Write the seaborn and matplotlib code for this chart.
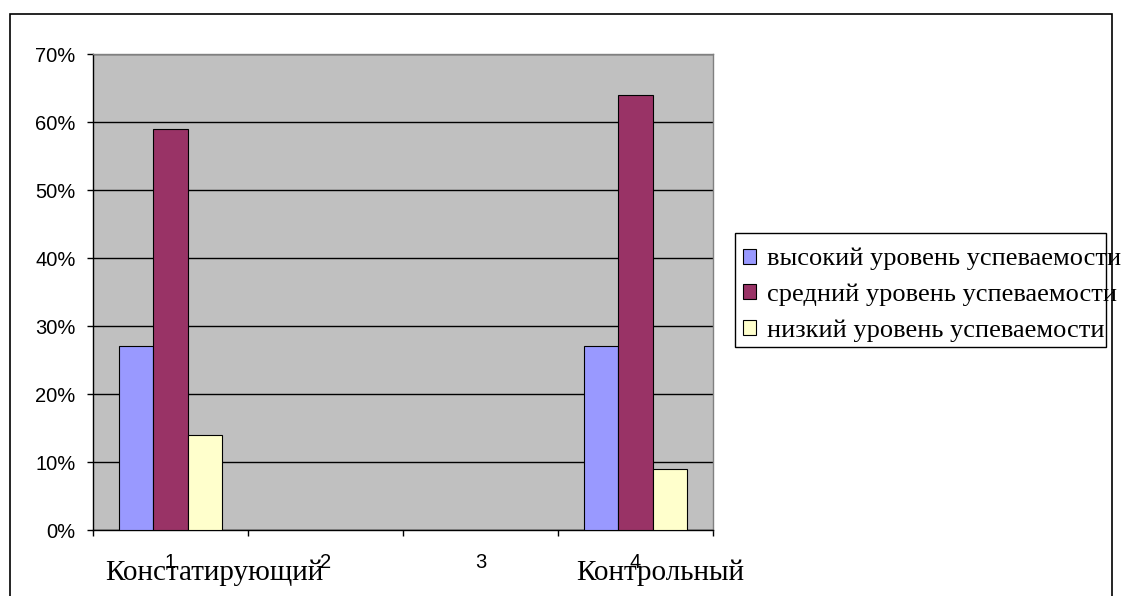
import matplotlib
matplotlib.use("Agg")
import matplotlib.pyplot as plt
from matplotlib.patches import Rectangle, Patch
from matplotlib.ticker import PercentFormatter, FixedLocator
import pandas as pd
import seaborn as sns

# данные
stages = ["1", "2", "3", "4"]
levels = ["высокий уровень успеваемости",
          "средний уровень успеваемости",
          "низкий уровень успеваемости"]
stage_names = ["Констатирующий", "Контрольный"]
high = [0.27, 0.27]
middle = [0.59, 0.64]
low = [0.14, 0.09]
measured_stages = ["1", "4"]
colors = ["#9999FF", "#993366", "#FFFFCC"]

rows = []
for lvl, vals in zip(levels, [high, middle, low]):
    for st, v in zip(measured_stages, vals):
        rows.append({"stage": st, "level": lvl, "value": v})
df = pd.DataFrame(rows)

sns.set_style("white")
plt.rcParams["font.family"] = ["Liberation Sans", "DejaVu Sans"]
plt.rcParams["text.color"] = "black"
plt.rcParams["xtick.color"] = "black"
plt.rcParams["ytick.color"] = "black"

fig = plt.figure(figsize=(11.21, 5.96), dpi=100)
ax = fig.add_axes([93 / 1121, 1 - 530 / 596, (713 - 93) / 1121, (530 - 54) / 596])

sns.barplot(data=df, x="stage", y="value", hue="level", order=stages,
            hue_order=levels, palette=colors, saturation=1, width=0.67,
            edgecolor="black", linewidth=0.8, errorbar=None, ax=ax, zorder=3)
ax.get_legend().remove()

ax.set_facecolor("#C0C0C0")
ax.set_xlim(-0.5, 3.5)
ax.set_ylim(0, 0.70)
ax.set_yticks([i / 10 for i in range(8)])
ax.yaxis.set_major_formatter(PercentFormatter(1, decimals=0))
ax.yaxis.grid(True, color="black", linewidth=1.0, zorder=0)
ax.set_axisbelow(True)
ax.set_xlabel("")
ax.set_ylabel("")

ax.xaxis.set_minor_locator(FixedLocator([-0.5, 0.5, 1.5, 2.5, 3.5]))
ax.tick_params(axis="x", which="major", length=0, pad=16.5, labelsize=14.5,
               labelcolor="black")
ax.tick_params(axis="x", which="minor", length=4.5, width=1, direction="out",
               color="black", bottom=True)
ax.tick_params(axis="y", which="major", length=4.5, width=1, direction="out",
               color="black", left=True, labelsize=14.5, pad=8,
               labelcolor="black")

for side in ["left", "bottom"]:
    ax.spines[side].set_color("black")
    ax.spines[side].set_linewidth(1.0)
for side in ["top", "right"]:
    ax.spines[side].set_color("#808080")
    ax.spines[side].set_linewidth(1.0)

# подписи этапов
fig.text(105 / 1121, 1 - 580 / 596, stage_names[0], family=["Liberation Serif"],
         fontsize=21, ha="left", va="baseline", color="black")
fig.text(576 / 1121, 1 - 580 / 596, stage_names[1], family=["Liberation Serif"],
         fontsize=21, ha="left", va="baseline", color="black")

# легенда (рамка рисуется отдельно, текст вылезает за неё как в оригинале)
handles = [Patch(facecolor=c, edgecolor="black", linewidth=0.8) for c in colors]
fig.legend(handles, levels, loc="upper left",
           bbox_to_anchor=(735 / 1121, 1 - 240 / 596),
           prop={"family": "Liberation Serif", "size": 19},
           frameon=False, handlelength=0.5, handleheight=0.5,
           handletextpad=0.4, borderpad=0.3, labelspacing=0.5,
           borderaxespad=0)
fig.patches.append(Rectangle((735 / 1121, 1 - 347 / 596), (1106 - 735) / 1121,
                             (347 - 233) / 596, transform=fig.transFigure,
                             fill=False, edgecolor="black", linewidth=1.0))

# внешняя рамка
fig.patches.append(Rectangle((10 / 1121, -0.05), (1112 - 10) / 1121,
                             1 - 14 / 596 + 0.05, transform=fig.transFigure,
                             fill=False, edgecolor="black", linewidth=1.2))

fig.savefig("out.png", dpi=100)
